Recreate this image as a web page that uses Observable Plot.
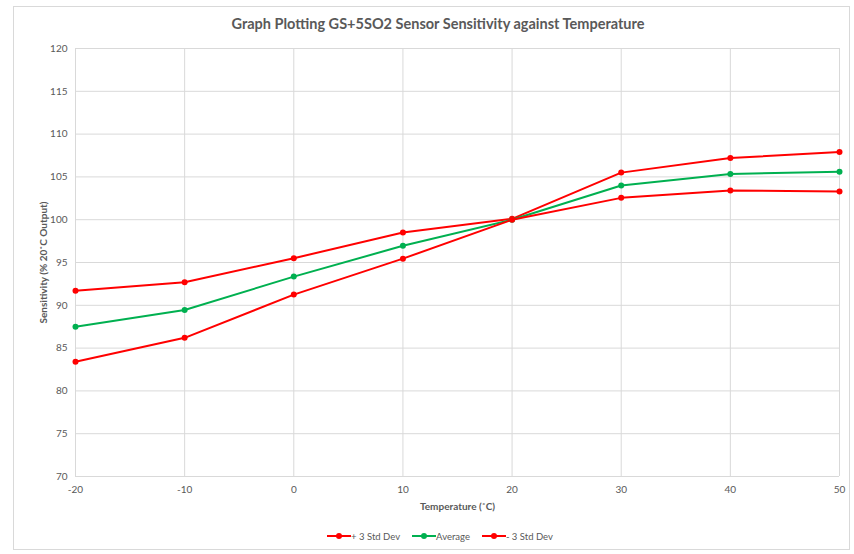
<!DOCTYPE html>
<html><head><meta charset="utf-8">
<script src="https://cdn.jsdelivr.net/npm/d3@7"></script>
<script src="https://cdn.jsdelivr.net/npm/@observablehq/plot@0.6"></script>
<style>
body{margin:0;background:#fff;font-family:Lato,"Noto Sans",sans-serif;}
#wrap{position:relative;width:854px;height:554px;overflow:hidden;}
#frame{position:absolute;left:13px;top:6px;width:837px;height:544px;border:1px solid #d9d9d9;box-sizing:border-box;}
#title{position:absolute;left:0;width:876px;top:15px;text-align:center;font-weight:bold;font-size:14.5px;color:#595959;}
#legend{position:absolute;left:0;width:880px;top:529px;text-align:center;font-size:9.5px;color:#595959;}
#legend span.item{display:inline-block;margin:0 6px;vertical-align:middle;}
#legend svg{vertical-align:middle;}
#chart{position:absolute;left:0;top:0;}
</style></head>
<body><div id="wrap"><div id="frame"></div><div id="title"></div><div id="chart"></div><div id="legend"></div></div>
<script>
const title = "Graph Plotting GS+5SO2 Sensor Sensitivity against Temperature";
const temperatures = [-20, -10, 0, 10, 20, 30, 40, 50];
const plus3 = [91.7, 92.7, 95.5, 98.5, 100.1, 105.5, 107.2, 107.9];
const average = [87.5, 89.45, 93.35, 96.95, 100.0, 104.0, 105.35, 105.6];
const minus3 = [83.4, 86.2, 91.25, 95.45, 100.0, 102.55, 103.4, 103.3];
const seriesNames = ["+ 3 Std Dev", "Average", "- 3 Std Dev"];
const seriesColors = ["#ff0000", "#00b050", "#ff0000"];
const xTicks = [-20, -10, 0, 10, 20, 30, 40, 50];
const yTicks = [70, 75, 80, 85, 90, 95, 100, 105, 110, 115, 120];

document.getElementById("title").textContent = title;
const values = [plus3, average, minus3];
const rows = [];
seriesNames.forEach((s, i) => temperatures.forEach((t, j) => rows.push({series: s, t, v: values[i][j]})));

const chart = Plot.plot({
  width: 854, height: 554,
  marginLeft: 75, marginRight: 15, marginTop: 48, marginBottom: 78,
  style: {fontFamily: "Lato, 'Noto Sans', sans-serif", fontSize: "10px", color: "#595959", background: "transparent"},
  x: {domain: [-20, 50], ticks: xTicks, tickFormat: d => String(d), tickSize: 0, tickPadding: 9, label: "Temperature (˚C)", labelAnchor: "center", labelOffset: 33, labelArrow: "none"},
  y: {domain: [70, 120], ticks: yTicks, tickFormat: d => String(d), tickSize: 0, tickPadding: 8, label: "Sensitivity (% 20˚C Output)", labelAnchor: "center", labelOffset: 36, labelArrow: "none"},
  color: {domain: seriesNames, range: seriesColors},
  marks: [
    Plot.gridX(xTicks, {stroke: "#d9d9d9", strokeOpacity: 1}),
    Plot.gridY(yTicks, {stroke: "#d9d9d9", strokeOpacity: 1}),
    Plot.ruleY([70], {stroke: "#d9d9d9"}),
    Plot.line(rows, {x: "t", y: "v", z: "series", stroke: "series", strokeWidth: 2}),
    Plot.dot(rows, {x: "t", y: "v", fill: "series", r: 3})
  ]
});
chart.querySelectorAll('[aria-label="x-axis label"] text, [aria-label="y-axis label"] text').forEach(t => { t.style.fontWeight = "bold"; t.setAttribute("fill", "#595959"); });
document.getElementById("chart").appendChild(chart);

const leg = document.getElementById("legend");
seriesNames.forEach((s, i) => {
  const span = document.createElement("span");
  span.className = "item";
  span.innerHTML = `<svg width="24" height="8"><line x1="0" x2="24" y1="4" y2="4" stroke="${seriesColors[i]}" stroke-width="2"/><circle cx="12" cy="4" r="3" fill="${seriesColors[i]}"/></svg>`;
  const txt = document.createElement("span");
  txt.textContent = s;
  txt.style.verticalAlign = "middle";
  span.appendChild(txt);
  leg.appendChild(span);
});
</script></body></html>
